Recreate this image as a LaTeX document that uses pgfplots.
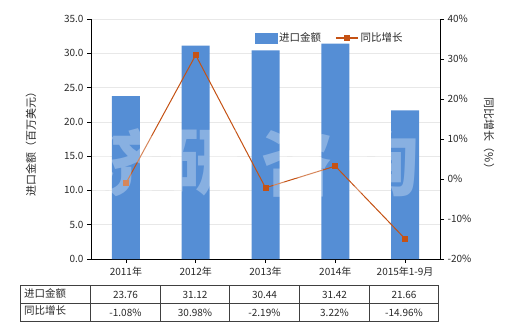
\documentclass[border=0pt]{standalone}
\usepackage{fontspec}
\setmainfont{Noto Sans CJK SC}
\usepackage{pgfplots}
\pgfplotsset{compat=1.18}
\definecolor{barblue}{RGB}{85,142,213}
\definecolor{lineor}{RGB}{197,82,20}
\definecolor{gridc}{RGB}{232,232,232}
\definecolor{txt}{RGB}{40,40,40}
\begin{document}
\begin{tikzpicture}[x=1pt,y=1pt,font=\fontsize{10}{12}\selectfont, text=txt]
\useasboundingbox (0pt,0pt) rectangle (520pt,330pt);
\begin{axis}[
  at={(91pt,71pt)}, anchor=south west,
  scale only axis, width=349pt, height=240pt,
  xmin=-0.5, xmax=4.5, ymin=0, ymax=35,
  axis y line*=left, axis x line*=bottom,
  xtick={0,1,2,3,4},
  xticklabels={2011年,2012年,2013年,2014年,2015年1-9月},
  ytick={0,5,...,35},
  yticklabel={\pgfmathprintnumber[fixed,fixed zerofill,precision=1]{\tick}},
  /pgf/number format/assume math mode=true,
  tick align=outside, major tick length=4pt,
  tick style={black, line width=0.6pt},
  axis line style={black, line width=0.6pt},
  ymajorgrids, grid style={gridc, line width=0.6pt},
  ticklabel style={font=\fontsize{10}{12}\selectfont, text=txt},
  xticklabel style={yshift=-1pt},
  clip=false,
]
\addplot[ybar, bar width=28pt, fill=barblue, draw=none] coordinates {(0,23.76) (1,31.12) (2,30.44) (3,31.42) (4,21.66)};
\end{axis}
\begin{axis}[
  at={(91pt,71pt)}, anchor=south west,
  scale only axis, width=349pt, height=240pt,
  xmin=-0.5, xmax=4.5, ymin=-20, ymax=40,
  axis y line*=right, axis x line=none,
  ytick={-20,-10,...,40},
  yticklabel={\pgfmathprintnumber{\tick}\%},
  /pgf/number format/assume math mode=true,
  tick align=outside, major tick length=4pt,
  tick style={black, line width=0.6pt},
  axis line style={black, line width=0.6pt},
  ticklabel style={font=\fontsize{10}{12}\selectfont, text=txt},
  legend style={at={(0.46,0.92)}, anchor=west, draw=none, fill=none, legend columns=2,
    /tikz/every even column/.append style={column sep=12pt}, font=\fontsize{10.5}{12}\selectfont, text=txt},
  legend cell align=left,
]
\addlegendimage{area legend, legend image code/.code={\fill[barblue] (0pt,-5pt) rectangle (22pt,5pt);}}
\addlegendentry{进口金额}
\addplot[lineor, line width=1pt, mark=square*, mark size=2.5pt, mark options={fill=lineor, draw=lineor},
  legend image code/.code={\draw[lineor, line width=1.5pt] (0pt,0pt) -- (22pt,0pt); \fill[lineor] (8.5pt,-2.5pt) rectangle (13.5pt,2.5pt);}]
  coordinates {(0,-1.08) (1,30.98) (2,-2.19) (3,3.22) (4,-14.96)};
\addlegendentry{同比增长}
\end{axis}
% axis titles
\node[rotate=90, font=\fontsize{11}{12}\selectfont] at (31pt,189pt) {进口金额（百万美元）};
\node[rotate=-90, font=\fontsize{11}{12}\selectfont] at (489pt,194pt) {同比增长（\%）};
% watermark
\begin{scope}[opacity=0.3]
\node[white, font=\fontsize{72}{72}\selectfont\bfseries] at (127pt,167pt) {济};
\node[white, font=\fontsize{72}{72}\selectfont\bfseries] at (203pt,167pt) {研};
\node[white, font=\fontsize{72}{72}\selectfont\bfseries] at (297pt,167pt) {咨};
\node[white, font=\fontsize{72}{72}\selectfont\bfseries] at (383pt,167pt) {询};
\end{scope}
% table
\draw[black!75, line width=0.6pt] (20pt,45pt) rectangle (438.5pt,9pt);
\draw[black!75, line width=0.6pt] (20pt,27pt) -- (438.5pt,27pt);
\foreach \x in {90.5,160.5,229.5,299.5,369.5} \draw[black!75, line width=0.6pt] (\x pt,45pt) -- (\x pt,9pt);
\node[anchor=west, font=\fontsize{10.5}{12}\selectfont] at (20.5pt,37pt) {进口金额};
\node[anchor=west, font=\fontsize{10.5}{12}\selectfont] at (20.5pt,19pt) {同比增长};
\foreach \x/\v in {125.5/23.76,195/31.12,264.5/30.44,334.5/31.42,404/21.66} \node at (\x pt,35.5pt) {\v};
\foreach \x/\v in {125.5/-1.08\%,195/30.98\%,264.5/-2.19\%,334.5/3.22\%,404/-14.96\%} \node at (\x pt,17.5pt) {\v};
\end{tikzpicture}
\end{document}
